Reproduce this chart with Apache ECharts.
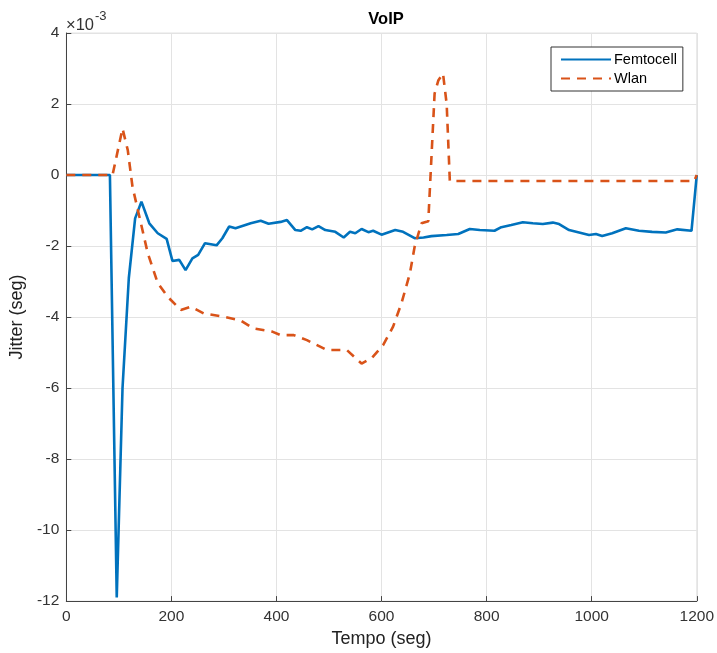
<!DOCTYPE html>
<html>
<head>
<meta charset="utf-8">
<title>VoIP</title>
<script src="https://cdn.jsdelivr.net/npm/echarts@6/dist/echarts.min.js"></script>
<style>
    html, body { margin: 0; padding: 0; background: #fff; }
    #chart { width: 717px; height: 653px; }
</style>
</head>
<body>
<div id="chart"></div>
<script>
// valores en unidades de 1e-3 seg (el eje muestra "x10^-3")
var femtoX = [0, 83, 96, 107, 119, 131, 143, 158, 174, 191, 202, 215, 227, 240, 251, 264, 286, 297, 310, 322,
    351, 370, 385, 408, 420, 436, 446, 458, 468, 480, 493, 512, 528, 540, 550, 562, 575, 584, 600, 626,
    641, 663, 680, 695, 724, 746, 768, 787, 815, 828, 847, 869, 888, 907, 926, 938, 957, 976, 995, 1008,
    1020, 1039, 1065, 1090, 1115, 1141, 1163, 1190, 1200];
var femtoY = [0, 0, -11.9, -6.0, -2.9, -1.22, -0.75, -1.36, -1.64, -1.8, -2.42, -2.39, -2.68, -2.35, -2.25, -1.92, -1.98, -1.78, -1.45, -1.5,
    -1.36, -1.29, -1.37, -1.32, -1.27, -1.55, -1.57, -1.47, -1.53, -1.44, -1.55, -1.6, -1.76, -1.6, -1.64, -1.52, -1.61, -1.57, -1.68, -1.55,
    -1.6, -1.78, -1.76, -1.72, -1.69, -1.66, -1.52, -1.55, -1.57, -1.47, -1.41, -1.33, -1.36, -1.38, -1.34, -1.38, -1.55, -1.62, -1.69, -1.66,
    -1.72, -1.64, -1.5, -1.57, -1.6, -1.62, -1.53, -1.57, 0];

var wlanX = [0, 88, 107, 117, 126, 142, 155, 174, 193, 218, 237, 262, 300, 332, 356, 392, 408, 433, 458, 496,
    534, 562, 581, 603, 622, 638, 654, 663, 676, 689, 701, 708, 717, 724, 730, 1195, 1200];
var wlanY = [0, 0, 1.31, 0.7, -0.33, -1.36, -2.2, -3.04, -3.43, -3.8, -3.71, -3.9, -3.99, -4.1, -4.32, -4.41, -4.51, -4.51, -4.65, -4.93,
    -4.93, -5.31, -5.16, -4.79, -4.27, -3.61, -2.77, -2.02, -1.36, -1.3, 2.29, 2.66, 2.86, 2.0, -0.17, -0.17, 0];

var xTicks = [0, 200, 400, 600, 800, 1000, 1200];
var yTicks = [-12, -10, -8, -6, -4, -2, 0, 2, 4];

function zip(xs, ys) {
    var out = [];
    for (var i = 0; i < xs.length; i++) {
        out.push([xs[i], ys[i]]);
    }
    return out;
}

var font = 'Liberation Sans, Arial, Helvetica, sans-serif';
var axisGray = '#444';
var gridGray = '#e3e3e3';

var myChart = echarts.init(document.getElementById('chart'));

var option = {
    backgroundColor: '#fff',
    animation: false,
    textStyle: { fontFamily: font },
    title: {
        text: 'VoIP',
        left: 381,
        top: 6,
        textAlign: 'center',
        textStyle: { fontSize: 16.5, fontWeight: 'bold', color: '#000', fontFamily: font }
    },
    grid: {
        left: 65, right: 19, top: 33, bottom: 50,
        show: true,
        borderColor: gridGray,
        borderWidth: 1
    },
    legend: {
        orient: 'vertical',
        left: 551,
        top: 47,
        padding: [5, 6, 5, 9],
        itemGap: 4,
        itemWidth: 50,
        itemHeight: 12,
        backgroundColor: '#fff',
        borderColor: '#333',
        borderWidth: 1,
        borderRadius: 0,
        itemStyle: { opacity: 0 },
        textStyle: { fontSize: 14.5, color: '#000', fontFamily: font, padding: [0, 0, 0, -2] },
        data: ['Femtocell', 'Wlan']
    },
    xAxis: {
        type: 'value',
        min: 0,
        max: 1200,
        interval: 200,
        name: 'Tempo (seg)',
        nameLocation: 'middle',
        nameGap: 19,
        nameTextStyle: { fontSize: 18, color: '#222', fontFamily: font },
        axisLine: { show: true, onZero: false, lineStyle: { color: axisGray, width: 1 } },
        axisTick: { show: true, inside: true, length: 5, lineStyle: { color: axisGray } },
        axisLabel: {
            fontSize: 15.5, color: '#333', margin: 8,
            formatter: function (v) { return xTicks.indexOf(v) >= 0 ? String(v) : ''; }
        },
        splitLine: { show: true, lineStyle: { color: gridGray, width: 1 } }
    },
    yAxis: {
        type: 'value',
        min: -12,
        max: 4,
        interval: 2,
        name: 'Jitter (seg)',
        nameLocation: 'middle',
        nameGap: 32,
        nameTextStyle: { fontSize: 18, color: '#222', fontFamily: font },
        axisLine: { show: true, onZero: false, lineStyle: { color: axisGray, width: 1 } },
        axisTick: { show: true, inside: true, length: 5, lineStyle: { color: axisGray } },
        axisLabel: {
            fontSize: 15.5, color: '#333', margin: 7,
            formatter: function (v) { return yTicks.indexOf(v) >= 0 ? String(v) : ''; }
        },
        splitLine: { show: true, lineStyle: { color: gridGray, width: 1 } }
    },
    // multiplicador del eje y
    graphic: [{
        type: 'text',
        left: 66,
        top: 17,
        style: { text: '\u00d710', fontSize: 16.5, fontFamily: font, fill: '#333' }
    }, {
        type: 'text',
        left: 95,
        top: 10,
        style: { text: '-3', fontSize: 13, fontFamily: font, fill: '#333' }
    }],
    series: [{
        name: 'Femtocell',
        type: 'line',
        data: zip(femtoX, femtoY),
        showSymbol: false,
        symbol: 'none',
        lineStyle: { color: '#0072BD', width: 2.6 },
        itemStyle: { color: '#0072BD' }
    }, {
        name: 'Wlan',
        type: 'line',
        data: zip(wlanX, wlanY),
        showSymbol: false,
        symbol: 'none',
        lineStyle: { color: '#D95319', width: 2.6, type: [9, 7] },
        itemStyle: { color: '#D95319' }
    }]
};

myChart.setOption(option);
</script>
</body>
</html>
